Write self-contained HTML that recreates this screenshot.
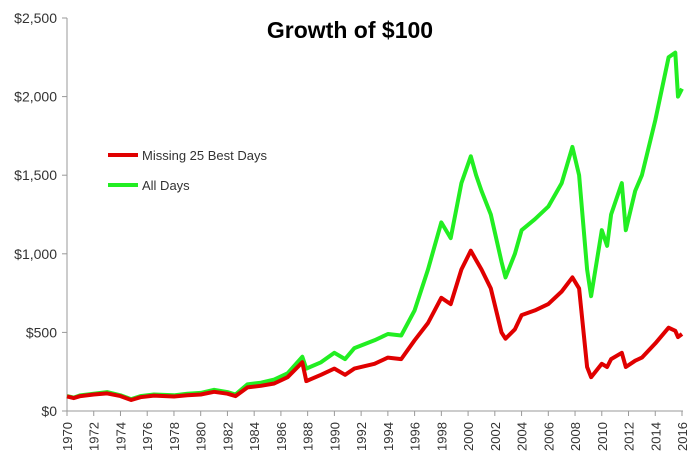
<!DOCTYPE html>
<html><head><meta charset="utf-8"><style>
body{margin:0;background:#fff;}
svg text{font-family:"Liberation Sans",sans-serif;fill:#333;}
</style></head><body>
<svg id="chart" width="700" height="462" xmlns="http://www.w3.org/2000/svg">
<text x="350" y="38" text-anchor="middle" font-size="23" font-weight="bold" style="fill:#000">Growth of $100</text>
<g id="axes"></g>
<g id="series"></g>
<g>
<line x1="108" y1="155" x2="138" y2="155" stroke="#e00000" stroke-width="4"/>
<text x="142" y="160" font-size="13">Missing 25 Best Days</text>
<line x1="108" y1="185" x2="138" y2="185" stroke="#22ee22" stroke-width="4"/>
<text x="142" y="190" font-size="13">All Days</text>
</g>
</svg>
<script>
const yTicks=[0,500,1000,1500,2000,2500];
const yTickLabels=["$0","$500","$1,000","$1,500","$2,000","$2,500"];
const xTicks=[1970,1972,1974,1976,1978,1980,1982,1984,1986,1988,1990,1992,1994,1996,1998,2000,2002,2004,2006,2008,2010,2012,2014,2016];
const allYears=[1970,1970.5,1971,1972,1973,1974,1974.8,1975.5,1976.5,1978,1979,1980,1981,1982,1982.6,1983.5,1984.5,1985.5,1986.5,1987.6,1987.9,1989,1990,1990.8,1991.5,1993,1994,1995,1996,1997,1998,1998.7,1999.5,2000.2,2000.6,2001,2001.7,2002.5,2002.8,2003.5,2004,2005,2006,2007,2007.8,2008.3,2008.9,2009.2,2010,2010.4,2010.7,2011.5,2011.8,2012.5,2013,2014,2015,2015.5,2015.7,2016];
const allValues=[95,85,100,110,120,100,75,95,105,100,110,115,135,120,105,170,180,200,240,345,270,310,370,330,400,450,490,480,640,900,1200,1100,1450,1620,1500,1400,1250,950,850,1000,1150,1220,1300,1450,1680,1500,900,730,1150,1050,1250,1450,1150,1400,1500,1850,2250,2280,2000,2050];
const missYears=[1970,1970.5,1971,1972,1973,1974,1974.8,1975.5,1976.5,1978,1979,1980,1981,1982,1982.6,1983.5,1984.5,1985.5,1986.5,1987.6,1987.9,1989,1990,1990.8,1991.5,1993,1994,1995,1996,1997,1998,1998.7,1999.5,2000.2,2000.6,2001,2001.7,2002.5,2002.8,2003.5,2004,2005,2006,2007,2007.8,2008.3,2008.9,2009.2,2010,2010.4,2010.7,2011.5,2011.8,2012.5,2013,2014,2015,2015.5,2015.7,2016];
const missValues=[93,82,95,105,112,95,70,88,98,92,100,105,122,110,95,150,160,175,215,310,190,230,270,230,270,300,340,330,450,560,720,680,900,1020,960,900,780,500,460,520,610,640,680,760,850,780,280,215,300,280,330,370,280,320,340,430,530,510,470,490];
const X=y=>67+(y-1970)*(682-67)/46;
const Y=v=>411-v*(411-18)/2500;
const NS="http://www.w3.org/2000/svg";
const axes=document.getElementById('axes');
function mk(t,a,p){const e=document.createElementNS(NS,t);for(const k in a)e.setAttribute(k,a[k]);p.appendChild(e);return e;}
let yl=mk('line',{x1:67,y1:18,x2:67,y2:411,stroke:'#999'},axes);


let xl=mk('line',{x1:67,y1:411,x2:683,y2:411,stroke:'#999'},axes);


yTicks.forEach((v,i)=>{
 const t=mk('line',{x1:62,y1:Y(v),x2:67,y2:Y(v),stroke:'#999'},axes);
 
 
 const l=mk('text',{x:57,y:Y(v)+5,'text-anchor':'end','font-size':14},axes);
 l.textContent=yTickLabels[i];
 
 
});
xTicks.forEach(yr=>{
 const t=mk('line',{x1:X(yr),y1:411,x2:X(yr),y2:416,stroke:'#999'},axes);
 
 
 const l=mk('text',{transform:`translate(${X(yr)+5},${451}) rotate(-90)`,'font-size':13},axes);
 l.textContent=yr;
 
 
});
const ser=document.getElementById('series');
function line(xs,vs,c,name){
 const p=mk('path',{d:xs.map((x,i)=>(i?'L':'M')+X(x).toFixed(1)+','+Y(vs[i]).toFixed(1)).join(''),fill:'none',stroke:c,'stroke-width':4,'stroke-linejoin':'round'},ser);
 
 
}
line(allYears,allValues,'#22ee22','all-days-line');
line(missYears,missValues,'#e00000','missing-25-best-days-line');
</script>
</body></html>
